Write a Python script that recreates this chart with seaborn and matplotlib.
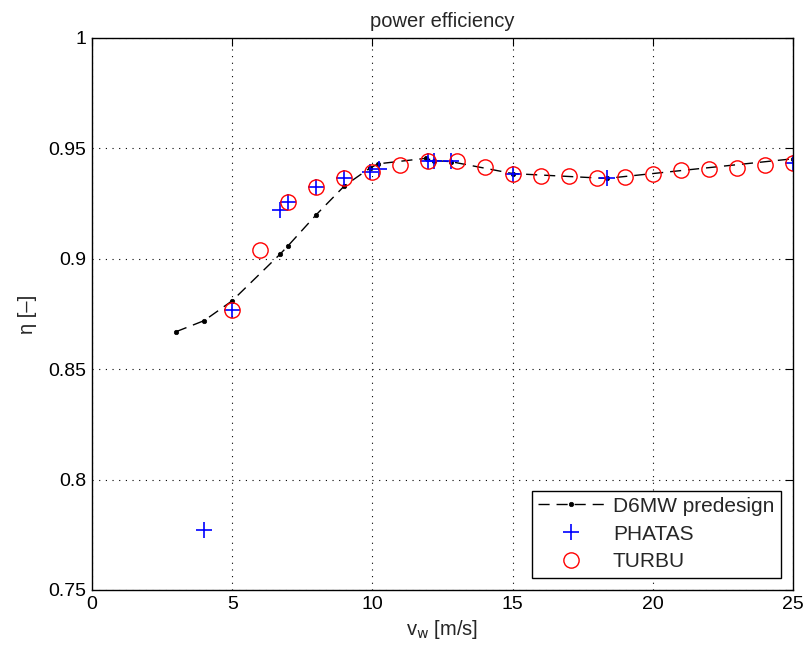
import matplotlib
matplotlib.use("Agg")
import matplotlib.pyplot as plt
import seaborn as sns
import pandas as pd

# D6MW predesign
d6_x = [3, 4, 5, 6.7, 7, 8, 9, 9.9, 10.2, 11.9, 12.2, 12.8, 15, 18.35, 25]
d6_y = [0.867, 0.872, 0.881, 0.902, 0.906, 0.920, 0.933, 0.941, 0.943,
        0.9455, 0.9445, 0.944, 0.9386, 0.9364, 0.9453]

# PHATAS
ph_x = [4, 5, 6.7, 7, 8, 9, 9.9, 10.25, 12, 12.2, 12.8, 15, 18.35, 25]
ph_y = [0.777, 0.877, 0.9223, 0.9256, 0.9324, 0.9364, 0.9394, 0.9405,
        0.9442, 0.9442, 0.9442, 0.9382, 0.9364, 0.9435]

# TURBU
tu_x = [5, 6, 7, 8, 9, 10, 11, 12, 13, 14, 15, 16, 17, 18, 19, 20, 21, 22, 23, 24, 25]
tu_y = [0.877, 0.9038, 0.9256, 0.9324, 0.9364, 0.9394, 0.9423, 0.9445, 0.9441,
        0.9415, 0.9385, 0.9377, 0.9373, 0.9365, 0.9371, 0.9382, 0.9400, 0.9405,
        0.9412, 0.9423, 0.9435]

x_ticks = [0, 5, 10, 15, 20, 25]
y_ticks = [0.75, 0.8, 0.85, 0.9, 0.95, 1.0]
y_ticklabels = ["0.75", "0.8", "0.85", "0.9", "0.95", "1"]

sns.set_style("white")
plt.rcParams['font.family'] = ['Liberation Sans', 'DejaVu Sans']
plt.rcParams['font.size'] = 14

fig = plt.figure(figsize=(8.06, 6.57), dpi=100)
ax = fig.add_axes([92 / 806, 1 - 590 / 657, (793 - 92) / 806, (590 - 38) / 657])

df_d6 = pd.DataFrame({"x": d6_x, "y": d6_y})
df_ph = pd.DataFrame({"x": ph_x, "y": ph_y})
df_tu = pd.DataFrame({"x": tu_x, "y": tu_y})

sns.lineplot(data=df_d6, x="x", y="y", ax=ax, estimator=None, sort=False,
             color="black", linewidth=1.0, linestyle=(0, (8, 5)),
             marker="o", markersize=3.2, markerfacecolor="black",
             markeredgecolor="black", markeredgewidth=0.5,
             label="D6MW predesign")
sns.lineplot(data=df_ph, x="x", y="y", ax=ax, estimator=None, sort=False,
             color="blue", linestyle="", marker="+", markersize=11,
             markeredgecolor="blue", markeredgewidth=1.2, label="PHATAS")
sns.lineplot(data=df_tu, x="x", y="y", ax=ax, estimator=None, sort=False,
             color="red", linestyle="", marker="o", markersize=11,
             markerfacecolor="none", markeredgecolor="red",
             markeredgewidth=1.0, label="TURBU")

ax.set_xlim(0, 25)
ax.set_ylim(0.75, 1.0)
ax.set_xticks(x_ticks)
ax.set_xticklabels([str(t) for t in x_ticks])
ax.set_yticks(y_ticks)
ax.set_yticklabels(y_ticklabels)
ax.tick_params(direction="in", length=6, width=0.8, top=True, right=True,
               labelsize=14, colors="black", pad=4)
ax.grid(True, linestyle=(0, (1, 5)), color="black", linewidth=0.8)
for s in ax.spines.values():
    s.set_color("black")
    s.set_linewidth(1.0)

ax.set_title("power efficiency", fontsize=14.5, pad=8)
ax.set_xlabel(r"v$_{\mathrm{w}}$ [m/s]", fontsize=14.5, labelpad=4)
ax.set_ylabel("η [–]", fontsize=14.5, labelpad=8)

leg = ax.legend(loc="lower right", fontsize=15, frameon=True, fancybox=False,
                edgecolor="black", framealpha=1, handlelength=3.2,
                handletextpad=0.4, borderaxespad=0.6, labelspacing=0.42,
                numpoints=1, borderpad=0.3)
leg.get_frame().set_linewidth(1.0)

fig.savefig("out.png", dpi=100)
